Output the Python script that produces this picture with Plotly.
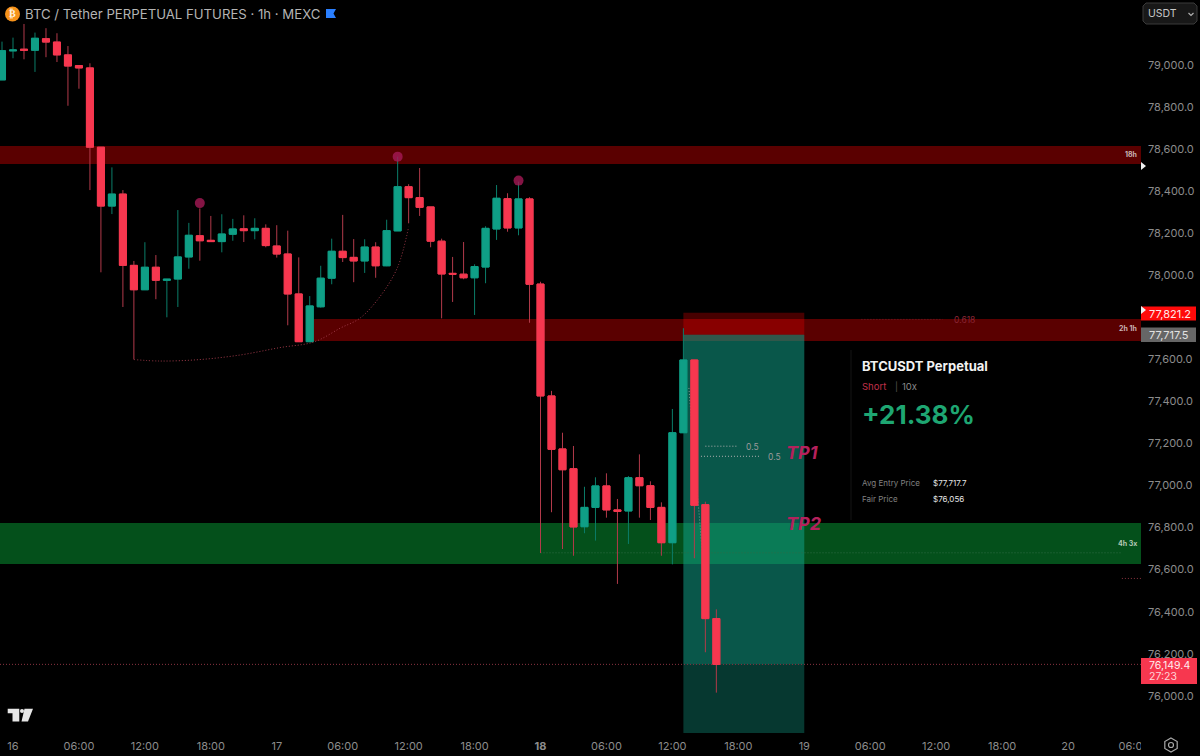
import plotly.graph_objects as go

hours = list(range(-1, 65))
opens = [78929,79067,79075,79070,79125,79109,79048,78997,78986,78609,78329,78386,78047,77931,78038,77976,77982,78087,78188,78166,78160,78195,78221,78212,78223,78139,78101,77911,77684,77850,77986,78114,78085,78068,78134,78045,78211,78421,78369,78325,78162,78009,78005,77988,78039,78220,78364,78225,78363,77958,77426,77174,77080,76804,76896,76998,76884,76879,77037,76999,76896,76728,77251,77597,76909,76367]
closes = [79068,79071,79070,79127,79109,79048,78995,78986,78609,78329,78386,78047,77931,78038,77976,77981,78087,78190,78164,78160,78196,78220,78212,78223,78141,78101,77911,77684,77854,77986,78114,78084,78068,78134,78045,78212,78421,78369,78323,78162,78006,78005,77988,78041,78223,78366,78225,78363,77957,77426,77172,77075,76803,76896,76998,76884,76877,77037,76999,76896,76728,77251,77597,76906,76367,76149]
highs = [79111,79130,79195,79154,79175,79151,79090,78997,79008,78609,78513,78405,78068,78157,78096,77981,78310,78249,78318,78282,78290,78268,78285,78271,78242,78238,78212,78085,77901,78045,78174,78287,78172,78171,78157,78264,78564,78433,78510,78325,78174,78087,78158,78052,78233,78429,78390,78445,78371,77969,77450,77251,77188,76994,77039,77058,76936,77045,77148,77020,76920,77364,77748,77597,76923,76411]
lows = [78929,79032,79027,78967,79037,79014,78806,78887,78405,78014,78291,77849,77600,77931,77886,77800,77849,78031,78069,78160,78109,78164,78158,78171,78133,78084,77762,77684,77684,77846,77957,78063,77967,78011,77988,78043,78211,78247,78282,78133,77795,77873,77981,77811,77962,78168,78207,78190,77774,76679,76873,76698,76666,76773,76738,76847,76532,76722,76847,76836,76666,76625,77251,76654,76207,76015]

tick_hours = [0,6,12,18,24,30,36,42,48,54,60,66,72,78,84,90,96,102]
tick_labels = ["16","06:00","12:00","18:00","17","06:00","12:00","18:00","<b>18</b>","06:00","12:00","18:00","19","06:00","12:00","18:00","20","06:00"]
price_ticks = [76000,76200,76400,76600,76800,77000,77200,77400,77600,78000,78200,78400,78600,78800,79000]

zone_top = (78529, 78615)
zone_mid = (77687, 77792)
zone_green = (76627, 76822)
stop_price, entry_price, last_price, target_price = 77821.2, 77717.5, 76149.4, 75823
arc_hours = [11,13.4,17,20.7,24.3,27.4,29.8,31.6,33.5,35,36]
arc_prices = [77599,77592,77599,77621,77656,77683,77749,77797,77906,78039,78230]
dot_hours = [17,35,46]
dot_prices = [78343,78564,78450]

RED, GREEN, RED_W, GREEN_W = "#f7374f", "#0f9f86", "#b23a4a", "#0b7d69"
W, H = 1200, 756
X0, X1 = -1.183, 102.64
DOT = "1px,2px"
px = lambda x: x / W
py = lambda y: 1 - y / H

fig = go.Figure()
fig.add_trace(go.Candlestick(x=hours, open=opens, high=highs, low=lows, close=closes,
    increasing=dict(line=dict(color=GREEN_W, width=1), fillcolor="rgba(0,0,0,0)"),
    decreasing=dict(line=dict(color=RED_W, width=1), fillcolor="rgba(0,0,0,0)"),
    hoverinfo="skip", showlegend=False))
fig.add_trace(go.Candlestick(x=hours, open=opens, close=closes,
    high=[max(a, b) for a, b in zip(opens, closes)],
    low=[min(a, b) for a, b in zip(opens, closes)],
    increasing=dict(line=dict(color=GREEN, width=1), fillcolor=GREEN),
    decreasing=dict(line=dict(color=RED, width=1), fillcolor=RED),
    hoverinfo="skip", showlegend=False))
fig.add_trace(go.Scatter(x=arc_hours, y=arc_prices, mode="lines",
    line=dict(color="#a03a4a", width=1, dash=DOT, shape="spline"), hoverinfo="skip", showlegend=False))
fig.add_trace(go.Scatter(x=dot_hours, y=dot_prices, mode="markers",
    marker=dict(size=10, color="rgba(165,25,85,0.8)"), hoverinfo="skip", showlegend=False))

shapes = []
def rect(x0, x1, y0, y1, color):
    shapes.append(dict(type="rect", xref="x", yref="y", x0=x0, x1=x1, y0=y0, y1=y1,
                       fillcolor=color, line=dict(width=0), layer="below"))
def dline(x0, x1, y0, y1, color):
    shapes.append(dict(type="line", xref="x", yref="y", x0=x0, x1=x1, y0=y0, y1=y1,
                       line=dict(color=color, width=1, dash=DOT), layer="below"))
def pshape(path, fill="rgba(0,0,0,0)", line=None, width=1):
    shapes.append(dict(type="path", xref="paper", yref="paper", path=path, fillcolor=fill,
                       line=dict(color=line or "rgba(0,0,0,0)", width=width if line else 0), layer="above"))
def P(*pts, close=True):
    s = "M" + " L".join(f"{px(a):.5f},{py(b):.5f}" for a, b in pts)
    return s + (" Z" if close else "")

rect(X0, X1, *zone_top, "#5a0000")
rect(27, X1, *zone_mid, "#5a0000")
rect(X0, X1, *zone_green, "#04501b")
rect(61, 72, entry_price, stop_price, "rgba(255,0,0,0.28)")
rect(61, 72, target_price, entry_price, "rgba(18,160,137,0.35)")
rect(61, 72, last_price, entry_price, "rgba(18,160,137,0.30)")
dline(X0, X1, last_price, last_price, "#8a3240")
dline(48, 100.8, 76680, 76680, "#2f6b45")
dline(77.2, 84.6, 77790, 77790, "#6b1f2c")
dline(63, 66, 77187, 77187, "#b0b0b0")
dline(62.6, 68, 77139, 77139, "#b0b0b0")
dline(61.5, 63.2, 77464, 76370, "#7f9a92")
dline(100.9, X1, 76558, 76558, "#8a3240")
shapes.append(dict(type="line", xref="paper", yref="paper", x0=px(851), x1=px(851), y0=py(350), y1=py(520),
                   line=dict(color="#141414", width=1), layer="below"))

# right-hand price flags and clipped axis corner
pshape(P((1141,733),(1200,733),(1200,756),(1141,756)), "#000000")
pshape(P((1141,306.5),(1196,306.5),(1196,320.5),(1141,320.5)), "#ff0a0a")
pshape(P((1141,327.5),(1196,327.5),(1196,342),(1141,342)), "#666666")
pshape(P((1141,658),(1197,658),(1197,684),(1141,684)), RED)
pshape(P((1141,162),(1146,166),(1141,170)), "#f0f0f0")
pshape(P((1141,306),(1146,310),(1141,314)), "#f0f0f0")
# USDT selector
pshape(P((1146,3),(1194,3),(1197,6),(1197,21),(1194,24),(1146,24),(1143,21),(1143,6)), "#181818", "#3a3a3a")
pshape(P((1188.5,13),(1191,15.5),(1193.5,13), close=False), line="#b0b0b0", width=1.2)
# title icons
shapes.append(dict(type="circle", xref="paper", yref="paper", x0=px(5), x1=px(20), y0=py(21.5), y1=py(6.5),
                   fillcolor="#f7931a", line=dict(width=0), layer="above"))
pshape(P((326,9),(336,9),(333.5,13.5),(336,18),(326,18)), "#2a7fff")
# TradingView mark
pshape(P((7.7,708.7),(19.3,708.7),(19.3,721.5),(12.5,721.5),(12.5,713.3),(7.7,713.3)), "#e6e6e6")
pshape(P((24.5,708.7),(33,708.7),(28,721.5),(21.5,721.5)), "#e6e6e6")
shapes.append(dict(type="circle", xref="paper", yref="paper", x0=px(20), x1=px(24), y0=py(713), y1=py(709),
                   fillcolor="#e6e6e6", line=dict(width=0), layer="above"))
# settings glyph
pshape(P((1171,738),(1177.2,741.5),(1177.2,748.5),(1171,752),(1164.8,748.5),(1164.8,741.5)), line="#a8a8a8", width=1.2)
shapes.append(dict(type="circle", xref="paper", yref="paper", x0=px(1168.5), x1=px(1173.5), y0=py(747.5), y1=py(742.5),
                   fillcolor="rgba(0,0,0,0)", line=dict(color="#a8a8a8", width=1.2), layer="above"))

FONT = "Inter"
ann = []
def T(x, y, text, size=10, color="#cccccc", anchor="left", family=FONT):
    ann.append(dict(xref="paper", yref="paper", x=px(x), y=py(y), text=text, showarrow=False,
                    xanchor=anchor, yanchor="middle", borderpad=0,
                    font=dict(family=family, size=size, color=color)))

T(24, 14, "BTC / Tether PERPETUAL FUTURES · 1h · MEXC", 13.2, "#b4b4b4")
T(12.5, 14, "<b>₿</b>", 10, "#fff3e0", "center", "DejaVu Sans")
T(1147, 14, "USDT", 10.5, "#c8c8c8")
T(1138, 155, "<b>18h</b>", 7, "#c9b5b5", "right")
T(1138, 329, "<b>2h 1h</b>", 7, "#c9b5b5", "right")
T(1138, 543, "<b>4h 3x</b>", 7, "#b5c9b5", "right")
T(953, 320, "0.618", 8.5, "#8a2535")
T(745, 447, "0.5", 8.5, "#9a9a9a")
T(767, 457, "0.5", 8.5, "#9a9a9a")
T(785, 452, "<b><i>TP1</i></b>", 18, "#b5215c")
T(785, 523, "<b><i>TP2</i></b>", 18, "#b5215c")
T(861, 366, "<b>BTCUSDT Perpetual</b>", 13, "#f2f2f2")
T(861, 386, "Short", 9.5, "#c2304a")
T(894, 386, "|", 9, "#555555")
T(901, 386, "10x", 9.5, "#8a8a8a")
T(861, 414, "<b>+21.38%</b>", 26, "#1ea672")
T(861, 483, "Avg Entry Price", 8, "#808080")
T(932, 483, "$77,717.7", 8, "#e6e6e6")
T(861, 499, "Fair Price", 8, "#808080")
T(932, 499, "$76,056", 8, "#e6e6e6")
T(1148, 313.5, "77,821.2", 11, "#ffe8e8")
T(1148, 335, "77,717.5", 11, "#e2e2e2")
T(1148, 665, "76,149.4", 10.5, "#ffecee")
T(1148, 676.5, "27:23", 10.5, "#ffd4d8")

fig.update_layout(
    width=W, height=H, autosize=False,
    paper_bgcolor="#000000", plot_bgcolor="#000000",
    margin=dict(l=0, r=0, t=0, b=0, pad=0), showlegend=False, boxgap=0.36, boxgroupgap=0,
    font=dict(family=FONT, color="#8c8c8c", size=11),
    shapes=shapes, annotations=ann,
    xaxis=dict(domain=[0, 1141 / W], range=[X0, X1], rangeslider=dict(visible=False), automargin=False,
               tickmode="array", tickvals=tick_hours, ticktext=tick_labels, showgrid=False, zeroline=False,
               showline=False, ticks="", ticklabelstandoff=5, tickangle=0,
               tickfont=dict(family=FONT, size=11, color="#8c8c8c")),
    yaxis=dict(domain=[py(733), 1], range=[75823, 79309], side="right", anchor="x", automargin=False,
               tickmode="array", tickvals=price_ticks, ticktext=[f"{p:,.1f}" for p in price_ticks],
               showgrid=False, zeroline=False, showline=False, ticks="", ticklabelstandoff=6,
               tickfont=dict(family=FONT, size=11, color="#8c8c8c")),
)
fig.write_html("out.html", config=dict(displayModeBar=False),
               post_script="document.body.style.margin='0';document.body.style.background='#000';document.documentElement.style.overflow='hidden';")
